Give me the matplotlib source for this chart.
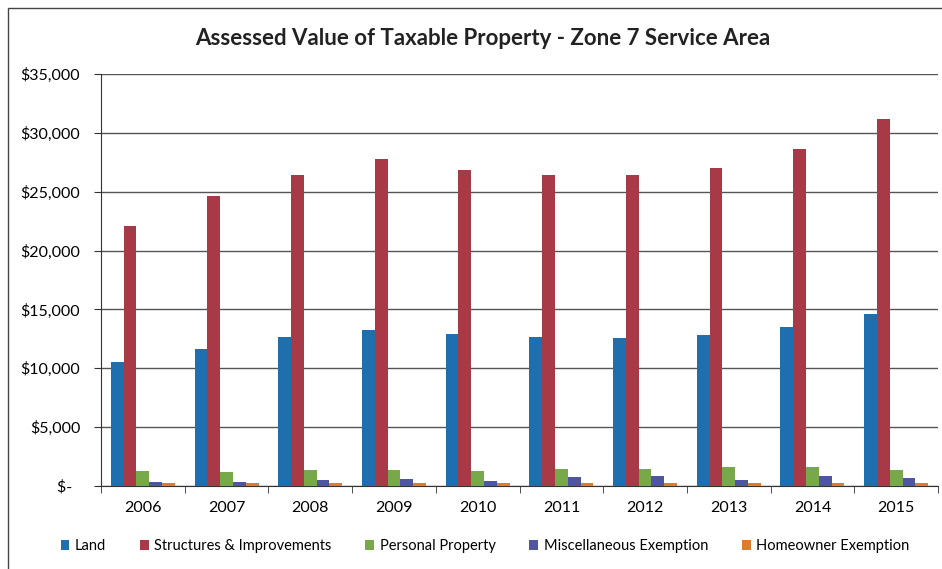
import numpy as np
import matplotlib.pyplot as plt
from matplotlib.patches import Rectangle
from matplotlib.ticker import FuncFormatter, MultipleLocator

plt.rcParams['font.family'] = ['Lato', 'DejaVu Sans']

years = ['2006', '2007', '2008', '2009', '2010', '2011', '2012', '2013', '2014', '2015']
series = ['Land', 'Structures & Improvements', 'Personal Property',
          'Miscellaneous Exemption', 'Homeowner Exemption']

land = [10510, 11640, 12660, 13220, 12880, 12630, 12600, 12850, 13530, 14640]
structures = [22050, 24630, 26420, 27750, 26820, 26440, 26460, 26980, 28640, 31160]
personal = [1250, 1190, 1360, 1400, 1310, 1445, 1445, 1615, 1590, 1360]
misc = [370, 370, 545, 570, 460, 765, 850, 540, 810, 680]
homeowner = [230, 290, 250, 250, 230, 255, 250, 250, 250, 250]

colors = ['#1f6fae', '#a83a48', '#77a84a', '#4f56a0', '#e07b2e']

fig = plt.figure(figsize=(9.42, 5.69), dpi=100)
ax = fig.add_axes([101/942, 83/569, 837/942, 412/569])

x = np.arange(len(years))
w = 0.153
valeurs = [land, structures, personal, misc, homeowner]
for i, (nom, v) in enumerate(zip(series, valeurs)):
	ax.bar(x + (i - 2)*w, v, w, color=colors[i], label=nom, zorder=3)

ax.set_xlim(-0.5, len(years) - 0.5)
ax.set_ylim(0, 35000)
ax.yaxis.set_major_locator(MultipleLocator(5000))
ax.yaxis.set_major_formatter(FuncFormatter(lambda v, p: '$-  ' if v == 0 else '${:,.0f}'.format(v)))
ax.grid(axis='y', color='#555555', linewidth=1, zorder=0)

ax.set_xticks(x)
ax.set_xticklabels(years)
ax.set_xticks(np.arange(-0.5, len(years)), minor=True)
ax.tick_params(axis='x', which='major', length=0, pad=11, labelsize=11.5)
ax.tick_params(axis='x', which='minor', length=5, color='#333333')
ax.tick_params(axis='y', length=5, color='#333333', labelsize=11.5, pad=10)

for s in ['top', 'right']:
	ax.spines[s].set_visible(False)
for s in ['left', 'bottom']:
	ax.spines[s].set_color('#333333')

fig.text(0.513, 0.933, 'Assessed Value of Taxable Property - Zone 7 Service Area',
         ha='center', va='center', fontsize=16, fontweight='bold', color='#222222')

fig.legend(loc='center', bbox_to_anchor=(0.515, 0.04), ncol=5, frameon=False,
           fontsize=10.5, handlelength=0.6, handleheight=0.6, handletextpad=0.4,
           columnspacing=2.3)

# cadre du graphique
fig.patches.append(Rectangle((8/942, -0.1), 2, 1.1 - 8/569, transform=fig.transFigure,
                             fill=False, edgecolor='#444444', linewidth=1))

fig.savefig('out.png', dpi=100)
